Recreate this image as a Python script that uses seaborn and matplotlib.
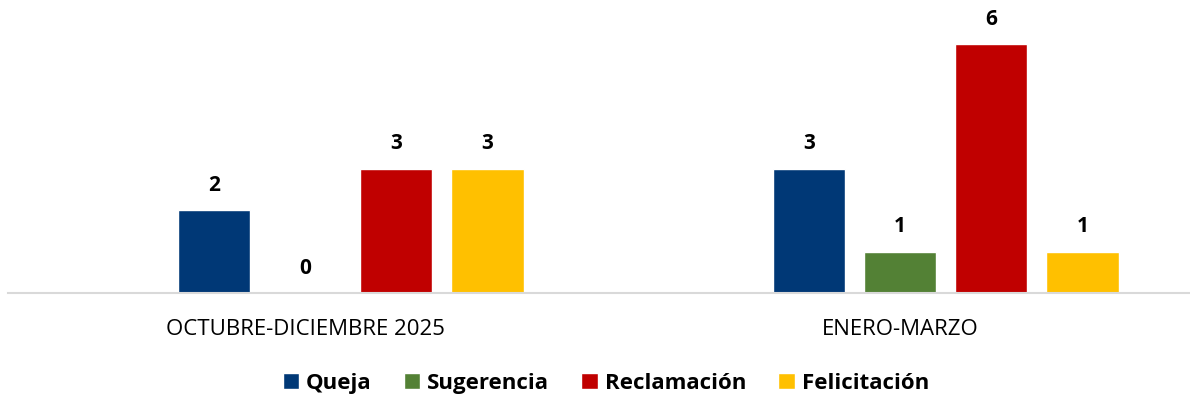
import matplotlib
matplotlib.use("Agg")
import matplotlib.pyplot as plt
import seaborn as sns
import pandas as pd
import numpy as np

# data
periodos = ["OCTUBRE-DICIEMBRE 2025", "ENERO-MARZO"]
tipos = ["Queja", "Sugerencia", "Reclamación", "Felicitación"]
queja = [2, 3]
sugerencia = [0, 1]
reclamacion = [3, 6]
felicitacion = [3, 1]
colores = ["#003876", "#538135", "#C00000", "#FFC000"]

# Excel chart keeps an empty first series, so bars sit right of the tick
vacio = [np.nan, np.nan]

valores = {"_vacio": vacio, "Queja": queja, "Sugerencia": sugerencia,
           "Reclamación": reclamacion, "Felicitación": felicitacion}
orden = ["_vacio"] + tipos
rows = []
for t in orden:
    for p, v in zip(periodos, valores[t]):
        rows.append({"periodo": p, "tipo": t, "valor": v})
df = pd.DataFrame(rows)

sns.set_style("white")
plt.rcParams["font.family"] = ["Open Sans", "DejaVu Sans"]
plt.rcParams["text.color"] = "black"
plt.rcParams["xtick.color"] = "black"

fig = plt.figure(figsize=(11.9, 4.02), dpi=100)
ax = fig.add_axes([7.5 / 1190, 0.268, 1.0, 0.702])

sns.barplot(data=df, x="periodo", y="valor", hue="tipo", order=periodos,
            hue_order=orden, palette=["#ffffff"] + colores, width=0.767,
            gap=0.21, saturation=1, ax=ax, legend=True)

for c in ax.containers:
    vals = np.asarray(c.datavalues, dtype=float)
    if np.all(np.isnan(vals)):
        continue
    ax.bar_label(c, labels=["" if np.isnan(v) else f"{v:.0f}" for v in vals],
                 padding=11, fontsize=15, fontweight="bold", color="black")

ax.set_ylim(0, 6.8)
ax.set_xlim(-0.5, 1.5)
ax.set_xlabel("")
ax.set_ylabel("")
ax.set_yticks([])
ax.tick_params(axis="x", length=0, pad=18, labelsize=16, labelcolor="black")
for s in ["top", "right", "left"]:
    ax.spines[s].set_visible(False)
ax.spines["bottom"].set_color("#d9d9d9")
ax.spines["bottom"].set_linewidth(1.5)

handles, labels = ax.get_legend_handles_labels()
pares = [(h, l) for h, l in zip(handles, labels) if l in tipos]
ax.legend_.remove()
fig.legend([h for h, l in pares], [l for h, l in pares], loc="center",
           bbox_to_anchor=(0.509, 0.045), ncol=4, frameon=False,
           handlelength=0.75, handleheight=0.75, handletextpad=0.3,
           columnspacing=1.45, prop={"size": 16, "weight": "bold"})

fig.savefig("out.png", dpi=100)
